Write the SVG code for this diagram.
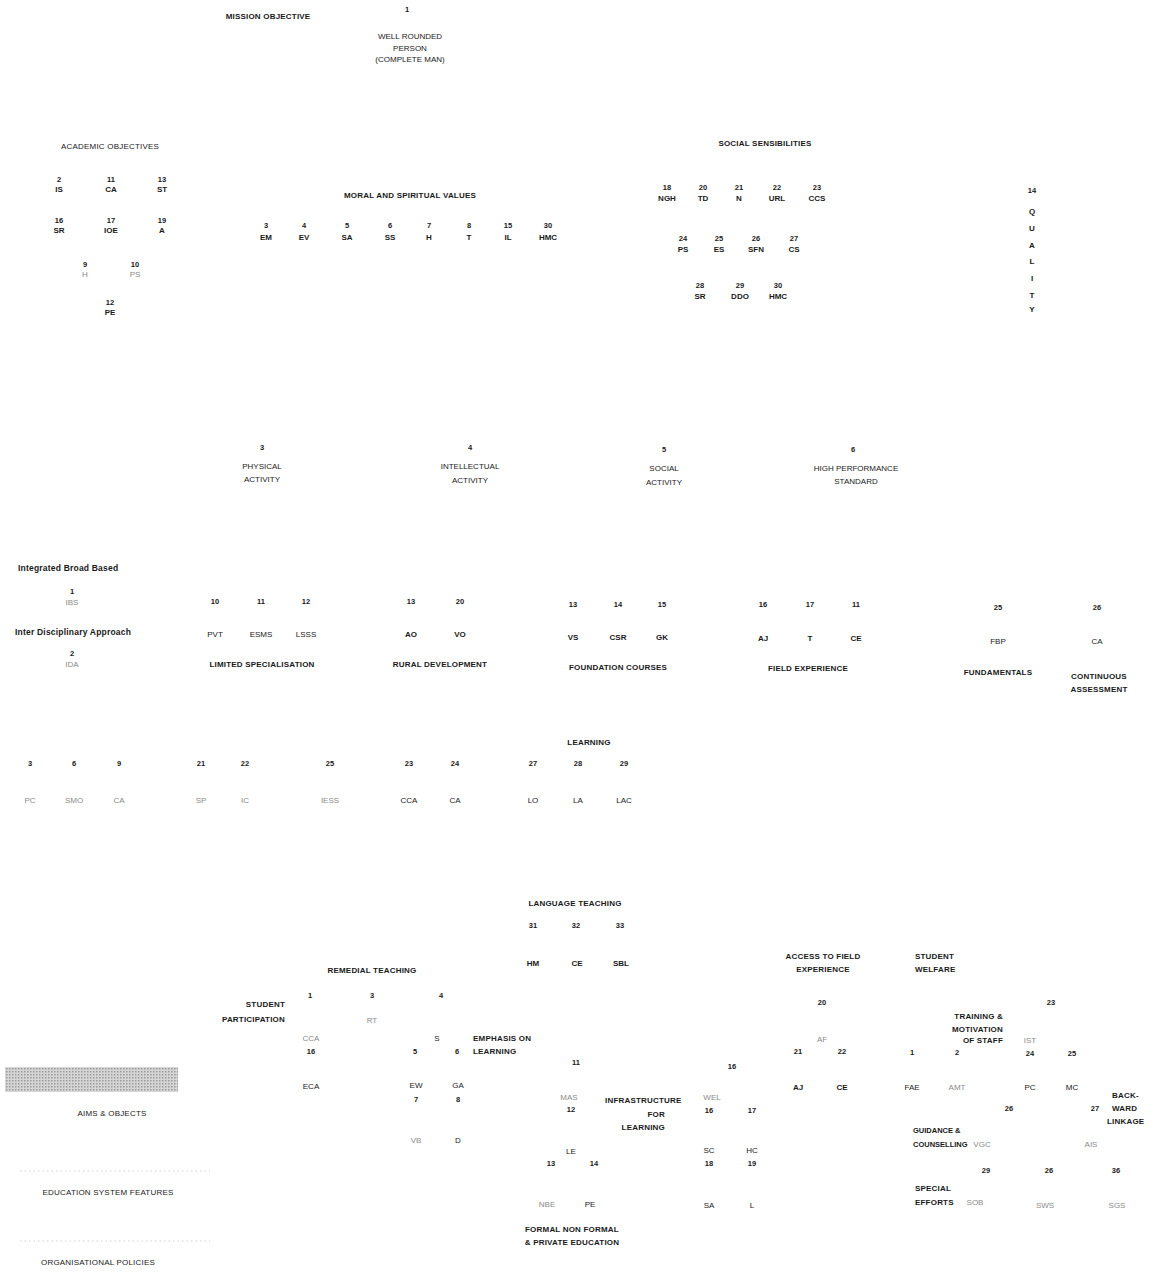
<svg xmlns="http://www.w3.org/2000/svg" width="1153" height="1273" viewBox="0 0 1153 1273">
<defs>
<style>
text{font-family:"Liberation Sans",Arial,sans-serif;text-anchor:middle;fill:#1a1a1a}
.t{font-size:8px;font-weight:bold;letter-spacing:0.2px}
.n{font-size:7.5px;font-weight:bold}
.l{font-size:8px;font-weight:bold}
.r{font-weight:normal}
.f{fill:#8a8a8a;font-weight:normal}
.s{text-anchor:start}
.e{text-anchor:end}
.c line{stroke:#c8c8c8;stroke-width:0.8;stroke-dasharray:1.5 3}
</style>
<pattern id="stip" width="3" height="3" patternUnits="userSpaceOnUse"><rect width="3" height="3" fill="#d6d6d6"/><rect width="1.5" height="1.5" fill="#9a9a9a"/></pattern>
</defs>
<rect width="1153" height="1273" fill="#ffffff"/>

<g id="connectors" class="c">
<line x1="20" y1="1171" x2="210" y2="1171"/>
<line x1="20" y1="1241" x2="210" y2="1241"/>
</g>

<g id="mission">
<text class="t" x="268" y="19">MISSION OBJECTIVE</text>
<text class="n" x="407" y="12">1</text>
<text class="l r" x="410" y="39">WELL ROUNDED</text>
<text class="l r" x="410" y="51">PERSON</text>
<text class="l r" x="410" y="62">(COMPLETE MAN)</text>
</g>

<g id="academic">
<text class="t r" x="110" y="149">ACADEMIC OBJECTIVES</text>
<text class="n" x="59" y="182">2</text><text class="l" x="59" y="192">IS</text>
<text class="n" x="111" y="182">11</text><text class="l" x="111" y="192">CA</text>
<text class="n" x="162" y="182">13</text><text class="l" x="162" y="192">ST</text>
<text class="n" x="59" y="223">16</text><text class="l" x="59" y="233">SR</text>
<text class="n" x="111" y="223">17</text><text class="l" x="111" y="233">IOE</text>
<text class="n" x="162" y="223">19</text><text class="l" x="162" y="233">A</text>
<text class="n" x="85" y="267">9</text><text class="l f" x="85" y="277">H</text>
<text class="n" x="135" y="267">10</text><text class="l f" x="135" y="277">PS</text>
<text class="n" x="110" y="305">12</text><text class="l" x="110" y="315">PE</text>
</g>

<g id="moral">
<text class="t" x="410" y="198">MORAL AND SPIRITUAL VALUES</text>
<text class="n" x="266" y="228">3</text><text class="l" x="266" y="240">EM</text>
<text class="n" x="304" y="228">4</text><text class="l" x="304" y="240">EV</text>
<text class="n" x="347" y="228">5</text><text class="l" x="347" y="240">SA</text>
<text class="n" x="390" y="228">6</text><text class="l" x="390" y="240">SS</text>
<text class="n" x="429" y="228">7</text><text class="l" x="429" y="240">H</text>
<text class="n" x="469" y="228">8</text><text class="l" x="469" y="240">T</text>
<text class="n" x="508" y="228">15</text><text class="l" x="508" y="240">IL</text>
<text class="n" x="548" y="228">30</text><text class="l" x="548" y="240">HMC</text>
</g>

<g id="social">
<text class="t" x="765" y="146">SOCIAL SENSIBILITIES</text>
<text class="n" x="667" y="190">18</text><text class="l" x="667" y="201">NGH</text>
<text class="n" x="703" y="190">20</text><text class="l" x="703" y="201">TD</text>
<text class="n" x="739" y="190">21</text><text class="l" x="739" y="201">N</text>
<text class="n" x="777" y="190">22</text><text class="l" x="777" y="201">URL</text>
<text class="n" x="817" y="190">23</text><text class="l" x="817" y="201">CCS</text>
<text class="n" x="683" y="241">24</text><text class="l" x="683" y="252">PS</text>
<text class="n" x="719" y="241">25</text><text class="l" x="719" y="252">ES</text>
<text class="n" x="756" y="241">26</text><text class="l" x="756" y="252">SFN</text>
<text class="n" x="794" y="241">27</text><text class="l" x="794" y="252">CS</text>
<text class="n" x="700" y="288">28</text><text class="l" x="700" y="299">SR</text>
<text class="n" x="740" y="288">29</text><text class="l" x="740" y="299">DDO</text>
<text class="n" x="778" y="288">30</text><text class="l" x="778" y="299">HMC</text>
</g>

<g id="quality">
<text class="n" x="1032" y="193">14</text>
<text class="l" x="1032" y="214">Q</text>
<text class="l" x="1032" y="231">U</text>
<text class="l" x="1032" y="248">A</text>
<text class="l" x="1032" y="264">L</text>
<text class="l" x="1032" y="281">I</text>
<text class="l" x="1032" y="298">T</text>
<text class="l" x="1032" y="312">Y</text>
</g>

<g id="activities">
<text class="n" x="262" y="450">3</text>
<text class="l r" x="262" y="469">PHYSICAL</text><text class="l r" x="262" y="482">ACTIVITY</text>
<text class="n" x="470" y="450">4</text>
<text class="l r" x="470" y="469">INTELLECTUAL</text><text class="l r" x="470" y="483">ACTIVITY</text>
<text class="n" x="664" y="452">5</text>
<text class="l r" x="664" y="471">SOCIAL</text><text class="l r" x="664" y="485">ACTIVITY</text>
<text class="n" x="853" y="452">6</text>
<text class="l r" x="856" y="471">HIGH PERFORMANCE</text><text class="l r" x="856" y="484">STANDARD</text>
</g>

<g id="approach">
<text class="t s" x="18" y="571" style="font-size:8.5px">Integrated Broad Based</text>
<text class="n" x="72" y="594">1</text><text class="l f" x="72" y="605">IBS</text>
<text class="t s" x="15" y="635" style="font-size:8.5px">Inter Disciplinary Approach</text>
<text class="n" x="72" y="656">2</text><text class="l f" x="72" y="667">IDA</text>
</g>

<g id="limited">
<text class="n" x="215" y="604">10</text><text class="l r" x="215" y="637">PVT</text>
<text class="n" x="261" y="604">11</text><text class="l r" x="261" y="637">ESMS</text>
<text class="n" x="306" y="604">12</text><text class="l r" x="306" y="637">LSSS</text>
<text class="t" x="262" y="667">LIMITED SPECIALISATION</text>
</g>

<g id="rural">
<text class="n" x="411" y="604">13</text><text class="l" x="411" y="637">AO</text>
<text class="n" x="460" y="604">20</text><text class="l" x="460" y="637">VO</text>
<text class="t" x="440" y="667">RURAL DEVELOPMENT</text>
</g>

<g id="foundation">
<text class="n" x="573" y="607">13</text><text class="l" x="573" y="640">VS</text>
<text class="n" x="618" y="607">14</text><text class="l" x="618" y="640">CSR</text>
<text class="n" x="662" y="607">15</text><text class="l" x="662" y="640">GK</text>
<text class="t" x="618" y="670">FOUNDATION COURSES</text>
</g>

<g id="field">
<text class="n" x="763" y="607">16</text><text class="l" x="763" y="641">AJ</text>
<text class="n" x="810" y="607">17</text><text class="l" x="810" y="641">T</text>
<text class="n" x="856" y="607">11</text><text class="l" x="856" y="641">CE</text>
<text class="t" x="808" y="671">FIELD EXPERIENCE</text>
</g>

<g id="fundamentals">
<text class="n" x="998" y="610">25</text><text class="l r" x="998" y="644">FBP</text>
<text class="t" x="998" y="675">FUNDAMENTALS</text>
</g>

<g id="continuous">
<text class="n" x="1097" y="610">26</text><text class="l r" x="1097" y="644">CA</text>
<text class="t" x="1099" y="679">CONTINUOUS</text>
<text class="t" x="1099" y="692">ASSESSMENT</text>
</g>

<g id="learning">
<text class="t" x="589" y="745">LEARNING</text>
<text class="n" x="30" y="766">3</text><text class="l f" x="30" y="803">PC</text>
<text class="n" x="74" y="766">6</text><text class="l f" x="74" y="803">SMO</text>
<text class="n" x="119" y="766">9</text><text class="l f" x="119" y="803">CA</text>
<text class="n" x="201" y="766">21</text><text class="l f" x="201" y="803">SP</text>
<text class="n" x="245" y="766">22</text><text class="l f" x="245" y="803">IC</text>
<text class="n" x="330" y="766">25</text><text class="l f" x="330" y="803">IESS</text>
<text class="n" x="409" y="766">23</text><text class="l r" x="409" y="803">CCA</text>
<text class="n" x="455" y="766">24</text><text class="l r" x="455" y="803">CA</text>
<text class="n" x="533" y="766">27</text><text class="l r" x="533" y="803">LO</text>
<text class="n" x="578" y="766">28</text><text class="l r" x="578" y="803">LA</text>
<text class="n" x="624" y="766">29</text><text class="l r" x="624" y="803">LAC</text>
</g>

<g id="language">
<text class="t" x="575" y="906">LANGUAGE TEACHING</text>
<text class="n" x="533" y="928">31</text><text class="l" x="533" y="966">HM</text>
<text class="n" x="576" y="928">32</text><text class="l" x="577" y="966">CE</text>
<text class="n" x="620" y="928">33</text><text class="l" x="621" y="966">SBL</text>
</g>

<g id="remedial">
<text class="t" x="372" y="973">REMEDIAL TEACHING</text>
<text class="n" x="310" y="998">1</text>
<text class="n" x="372" y="998">3</text>
<text class="n" x="441" y="998">4</text>
<text class="l f" x="372" y="1023">RT</text>
</g>

<g id="participation">
<text class="t e" x="285" y="1007">STUDENT</text>
<text class="t e" x="285" y="1022">PARTICIPATION</text>
<text class="l f" x="311" y="1041">CCA</text>
<text class="n" x="311" y="1054">16</text>
<text class="l r" x="311" y="1089">ECA</text>
</g>

<g id="emphasis">
<text class="l r" x="437" y="1041">S</text>
<text class="t s" x="473" y="1041">EMPHASIS ON</text>
<text class="n" x="415" y="1054">5</text>
<text class="n" x="457" y="1054">6</text>
<text class="t s" x="473" y="1054">LEARNING</text>
<text class="l r" x="416" y="1088">EW</text><text class="l r" x="458" y="1088">GA</text>
<text class="n" x="416" y="1102">7</text><text class="n" x="458" y="1102">8</text>
<text class="l f" x="416" y="1143">VB</text><text class="l r" x="458" y="1143">D</text>
</g>

<g id="aims">
<rect x="5" y="1067" width="173" height="25" fill="url(#stip)"/>
<text class="t r" x="112" y="1116">AIMS &amp; OBJECTS</text>
</g>
<g id="features">
<text class="t r" x="108" y="1195">EDUCATION SYSTEM FEATURES</text>
</g>
<g id="policies">
<text class="t r" x="98" y="1265">ORGANISATIONAL POLICIES</text>
</g>

<g id="formal">
<text class="n" x="576" y="1065">11</text>
<text class="l f" x="569" y="1100">MAS</text>
<text class="n" x="571" y="1112">12</text>
<text class="l r" x="571" y="1154">LE</text>
<text class="n" x="551" y="1166">13</text><text class="n" x="594" y="1166">14</text>
<text class="l f" x="547" y="1207">NBE</text><text class="l r" x="590" y="1207">PE</text>
<text class="t" x="572" y="1232">FORMAL NON FORMAL</text>
<text class="t" x="572" y="1245">&amp; PRIVATE EDUCATION</text>
</g>

<g id="infrastructure">
<text class="t s" x="605" y="1103">INFRASTRUCTURE</text>
<text class="t e" x="665" y="1117">FOR</text>
<text class="t e" x="665" y="1130">LEARNING</text>
<text class="n" x="732" y="1069">16</text>
<text class="l f" x="712" y="1100">WEL</text>
<text class="n" x="709" y="1113">16</text><text class="n" x="752" y="1113">17</text>
<text class="l r" x="709" y="1153">SC</text><text class="l r" x="752" y="1153">HC</text>
<text class="n" x="709" y="1166">18</text><text class="n" x="752" y="1166">19</text>
<text class="l r" x="709" y="1208">SA</text><text class="l r" x="752" y="1208">L</text>
</g>

<g id="access">
<text class="t" x="823" y="959">ACCESS TO FIELD</text>
<text class="t" x="823" y="972">EXPERIENCE</text>
<text class="n" x="822" y="1005">20</text>
<text class="l f" x="822" y="1042">AF</text>
<text class="n" x="798" y="1054">21</text><text class="n" x="842" y="1054">22</text>
<text class="l" x="798" y="1090">AJ</text><text class="l" x="842" y="1090">CE</text>
</g>

<g id="welfare">
<text class="t s" x="915" y="959">STUDENT</text>
<text class="t s" x="915" y="972">WELFARE</text>
<text class="n" x="912" y="1055">1</text><text class="n" x="957" y="1055">2</text>
<text class="l r" x="912" y="1090">FAE</text><text class="l f" x="957" y="1090">AMT</text>
</g>

<g id="training">
<text class="n" x="1051" y="1005">23</text>
<text class="t e" x="1003" y="1019">TRAINING &amp;</text>
<text class="t e" x="1003" y="1032">MOTIVATION</text>
<text class="t e" x="1003" y="1043">OF STAFF</text>
<text class="l f" x="1030" y="1043">IST</text>
<text class="n" x="1030" y="1056">24</text><text class="n" x="1072" y="1056">25</text>
<text class="l r" x="1030" y="1090">PC</text><text class="l r" x="1072" y="1090">MC</text>
</g>

<g id="backward">
<text class="t s" x="1112" y="1098">BACK-</text>
<text class="t s" x="1112" y="1111">WARD</text>
<text class="t s" x="1107" y="1124">LINKAGE</text>
<text class="n" x="1095" y="1111">27</text>
<text class="l f" x="1091" y="1147">AIS</text>
</g>

<g id="guidance">
<text class="n" x="1009" y="1111">26</text>
<text class="t s" x="913" y="1133" style="font-size:7.5px;letter-spacing:0">GUIDANCE &amp;</text>
<text class="t s" x="913" y="1147" style="font-size:7.5px;letter-spacing:0">COUNSELLING</text>
<text class="l f" x="982" y="1147">VGC</text>
</g>

<g id="special">
<text class="n" x="986" y="1173">29</text>
<text class="n" x="1049" y="1173">26</text>
<text class="n" x="1116" y="1173">36</text>
<text class="t s" x="915" y="1191">SPECIAL</text>
<text class="t s" x="915" y="1205">EFFORTS</text>
<text class="l f" x="975" y="1205">SOB</text>
<text class="l f" x="1045" y="1208">SWS</text>
<text class="l f" x="1117" y="1208">SGS</text>
</g>
</svg>
